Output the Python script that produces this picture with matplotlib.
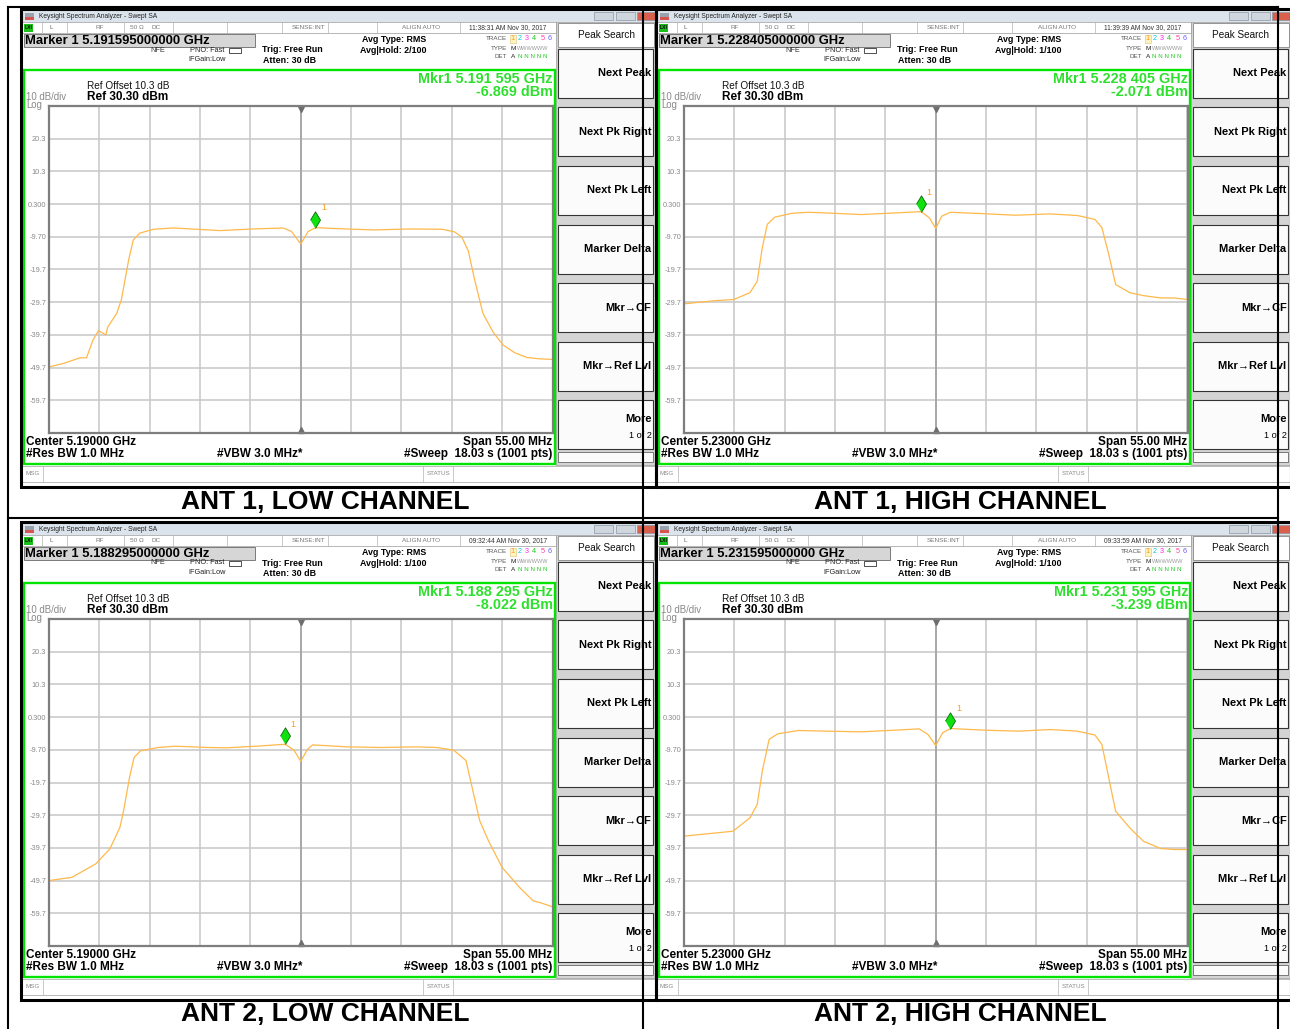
import matplotlib.pyplot as plt
from matplotlib.patches import Rectangle
import numpy as np

plt.rcParams['font.family'] = ['Liberation Sans', 'DejaVu Sans']

span_ghz = 0.055
ref_dbm = 30.3
bottom_dbm = -69.7

captions = ["ANT 1, LOW CHANNEL", "ANT 1, HIGH CHANNEL", "ANT 2, LOW CHANNEL", "ANT 2, HIGH CHANNEL"]
centers_ghz = [5.19, 5.23, 5.19, 5.23]
marker_ghz = [5.191595, 5.228405, 5.188295, 5.231595]
marker_dbm = [-6.869, -2.071, -8.022, -3.239]
timestamps = ["11:38:31 AM Nov 30, 2017", "11:39:39 AM Nov 30, 2017",
              "09:32:44 AM Nov 30, 2017", "09:33:59 AM Nov 30, 2017"]
avg_hold = ["2/100", "1/100", "1/100", "1/100"]

level_ticks = [-69.7, -59.7, -49.7, -39.7, -29.7, -19.7, -9.7, 0.3, 10.3, 20.3, 30.3]
level_labels = ["", "-59.7", "-49.7", "-39.7", "-29.7", "-19.7", "-9.70", "0.300", "10.3", "20.3", ""]

softkeys = ["Next Peak", "Next Pk Right", "Next Pk Left", "Marker Delta",
            "Mkr\u2192CF", "Mkr\u2192Ref Lvl", "More"]

# traces: offset from center frequency (MHz) and level (dBm)
a1_low_mhz = [-27.5, -25.9, -24.1, -23.4, -22.7, -22.1, -21.3, -21.1, -20.1, -19.6, -19.2, -18.8, -18.3,
              -17.6, -16.1, -13.9, -8.8, -5.2, -1.9, -1.0, 0.0, 0.8, 1.6, 4.0, 8.0, 12.0, 15.5, 16.8,
              17.6, 18.3, 19.0, 19.9, 21.0, 22.1, 23.4, 24.7, 26.0, 27.5]
a1_low_dbm = [-49.5, -48.4, -46.7, -46.7, -41.3, -38.4, -39.7, -37.4, -33.1, -29.0, -22.9, -16.8, -10.7,
              -8.6, -7.4, -7.0, -7.8, -7.3, -7.0, -8.1, -11.9, -8.1, -6.9, -7.2, -7.6, -7.3, -7.4, -8.2,
              -9.8, -14.0, -22.9, -33.1, -38.8, -42.8, -45.2, -46.6, -47.0, -47.2]

a1_high_mhz = [-27.5, -24.0, -22.1, -20.3, -19.5, -18.95, -18.4, -17.6, -15.7, -13.9, -11.2, -8.2, -4.4,
               -1.6, -0.7, 0.0, 0.65, 1.6, 5.0, 8.7, 12.5, 15.5, 17.4, 18.15, 18.9, 19.65, 21.2, 22.7,
               24.6, 26.1, 27.5]
a1_high_dbm = [-30.2, -29.2, -28.9, -26.8, -23.3, -13.1, -5.9, -3.7, -2.5, -2.2, -2.5, -2.9, -2.4,
               -2.0, -3.9, -7.1, -3.4, -2.2, -2.6, -3.1, -2.7, -3.2, -4.4, -6.9, -15.1, -24.3, -26.8,
               -27.7, -28.4, -28.4, -28.9]

a2_low_mhz = [-27.5, -25.0, -22.4, -20.85, -19.75, -19.35, -18.7, -18.2, -17.5, -15.6, -13.7, -10.0,
              -8.1, -4.3, -1.7, -0.75, 0.0, 0.75, 1.3, 5.1, 8.8, 12.6, 14.85, 16.7, 18.05, 18.8, 19.55,
              20.5, 22.0, 23.9, 25.4, 26.1, 27.5]
a2_low_dbm = [-49.7, -48.7, -44.6, -40.0, -33.4, -28.3, -18.1, -12.0, -10.0, -9.0, -8.6, -9.0, -9.1,
              -8.5, -8.0, -9.8, -13.2, -9.5, -8.2, -8.8, -9.0, -8.8, -9.0, -9.8, -13.0, -22.2, -31.4,
              -37.5, -45.7, -51.8, -55.9, -56.4, -57.7]

a2_high_mhz = [-27.5, -22.15, -20.3, -19.5, -18.95, -18.2, -17.25, -15.0, -12.0, -8.2, -4.45, -1.8,
               -0.85, 0.0, 0.75, 1.6, 5.35, 9.1, 12.5, 15.5, 17.4, 18.15, 18.9, 19.65, 21.2, 22.7,
               24.6, 26.1, 27.5]
a2_high_dbm = [-36.1, -34.6, -30.5, -26.4, -16.2, -6.5, -4.8, -3.8, -4.0, -4.2, -3.7, -3.3, -5.0,
               -8.4, -4.5, -3.2, -3.7, -4.0, -3.5, -4.0, -5.2, -8.1, -18.3, -28.5, -33.6, -37.7,
               -39.9, -40.2, -40.2]

traces = [(a1_low_mhz, a1_low_dbm), (a1_high_mhz, a1_high_dbm),
          (a2_low_mhz, a2_low_dbm), (a2_high_mhz, a2_high_dbm)]

# top-left corner of each analyzer screen, in pixels
origins = [(22, 10), (657, 10), (22, 523), (657, 523)]
caption_xy = [(325, 502), (960, 502), (325, 1014), (960, 1014)]

W, H = 1290, 1029
fig = plt.figure(figsize=(12.9, 10.29), dpi=100)
bg = fig.add_axes([0, 0, 1, 1])
bg.set_xlim(0, W)
bg.set_ylim(H, 0)
bg.axis('off')

green = '#00e400'
trace_col = '#ffb84a'
diamond = [(0, 0), (0.3, 0.5), (0, 1), (-0.3, 0.5)]


def box(x, y, w, h, fc='white', ec='none', lw=0.8, z=1):
    bg.add_patch(Rectangle((x, y), w, h, facecolor=fc, edgecolor=ec, linewidth=lw, zorder=z))


def draw_screen(i, ox, oy):
    def txt(x, y, s, size=5, color='black', weight='normal', ha='left', z=3):
        bg.text(ox + x, oy + y, s, fontsize=size, color=color, fontweight=weight,
                ha=ha, va='center', zorder=z)

    box(ox, oy, 634, 477)
    # window title bar
    box(ox, oy, 634, 12, fc='#dbe3ec')
    box(ox + 3, oy + 3, 9, 4, fc='#9aa3ad')
    box(ox + 3, oy + 7, 9, 3, fc='#d9534f')
    txt(17, 6.3, 'Keysight Spectrum Analyzer - Swept SA', size=4.8, color='#222')
    for bx, c in [(572, '#cfd6de'), (594, '#cfd6de'), (615, '#d9604c')]:
        box(ox + bx, oy + 2, 19, 8, fc=c, ec='#8a96a3', lw=0.5, z=2)

    # status row
    box(ox, oy + 12, 534, 11, ec='#9a9a9a', lw=0.5)
    for dx in [20, 45, 102, 151, 205, 260, 306, 355, 438]:
        bg.plot([ox + dx, ox + dx], [oy + 12, oy + 23], color='#b4b4b4', lw=0.5, zorder=2)
    box(ox + 2, oy + 13.5, 9, 8, fc='#19c019', z=2)
    txt(2.6, 17.8, 'LXI', size=3.6, weight='bold')
    txt(27, 17.8, 'L', size=4.6, color='#666')
    txt(78, 17.8, 'RF', size=4.6, color='#777', ha='center')
    txt(115, 17.8, '50 \u03a9', size=4.6, color='#777', ha='center')
    txt(134.5, 17.8, 'DC', size=4.6, color='#777', ha='center')
    txt(303, 17.8, 'SENSE:INT', size=4.6, color='#777', ha='right')
    txt(399.5, 17.8, 'ALIGN AUTO', size=4.6, color='#777', ha='center')
    txt(486, 17.8, timestamps[i], size=4.8, color='#333', ha='center')

    # marker readout
    box(ox + 2, oy + 24, 231, 13, fc='#d6d6d6', ec='#7a7a7a', lw=0.7)
    txt(3, 30.8, f'Marker 1 {marker_ghz[i]:.12f} GHz', size=9.4, weight='bold')
    txt(135.5, 40, 'NFE', size=5.3, color='#333', ha='center')
    txt(168, 40, 'PNO: Fast', size=5.3, color='#222')
    box(ox + 207, oy + 37.5, 12, 5, fc='white', ec='#333', lw=0.6)
    txt(166, 49.7, 'IFGain:Low', size=5.3, color='#222')
    txt(240, 40, 'Trig: Free Run', size=6.4, weight='bold')
    txt(241, 50.3, 'Atten: 30 dB', size=6.4, weight='bold')
    txt(372.5, 29.7, 'Avg Type: RMS', size=6.4, weight='bold', ha='center')
    txt(371, 40.7, 'Avg|Hold: ' + avg_hold[i], size=6.4, weight='bold', ha='center')

    txt(485, 28.7, 'TRACE', size=4.5, color='#555', ha='right')
    txt(485, 38.2, 'TYPE', size=4.5, color='#555', ha='right')
    txt(485, 46.7, 'DET', size=4.5, color='#555', ha='right')
    box(ox + 487.5, oy + 24.5, 6.5, 8.5, fc='#fff3c0', ec='#ddc070', lw=0.4, z=2)
    txt(490.7, 28.7, '1', size=5.2, color='#ff9a1a', ha='center')
    for dx, d, c in [(497.3, '2', '#00c8e0'), (504.7, '3', '#ff2af0'), (512, '4', '#20c020'),
                     (520.7, '5', '#ff3fa0'), (528, '6', '#6a5cff')]:
        txt(dx, 28.7, d, size=5.2, color=c, ha='center')
    txt(490.7, 38.2, 'M', size=4.6, color='#222', ha='center')
    txt(494.5, 38.2, 'WWWWWW', size=4.0, color='#999')
    txt(490.7, 46.7, 'A', size=4.6, color='#222', ha='center')
    txt(495.5, 46.7, 'N N N N N', size=4.4, color='#22cc22')

    # green measurement frame
    box(ox + 2, oy + 60, 531, 394, fc='none', ec=green, lw=1.7, z=4)
    txt(531, 69, 'Mkr1 {} {} GHz'.format(f'{marker_ghz[i]:.6f}'[:5], f'{marker_ghz[i]:.6f}'[5:]),
        size=10.4, weight='bold', color='#2ee02e', ha='right')
    txt(531, 82, f'{marker_dbm[i]:.3f} dBm', size=10.4, weight='bold', color='#2ee02e', ha='right')
    txt(64.7, 75.7, 'Ref Offset 10.3 dB', size=7.2, color='#111')
    txt(4, 86.6, '10 dB/div', size=6.9, color='#888')
    txt(64.7, 87.3, f'Ref {ref_dbm:.2f} dBm', size=8.5, weight='bold')
    txt(4, 94.6, 'Log', size=6.9, color='#888')

    cf = centers_ghz[i]
    txt(4, 431.7, f'Center {cf:.5f} GHz', size=8.5, weight='bold')
    txt(530.3, 431.7, f'Span {span_ghz * 1000:.2f} MHz', size=8.5, weight='bold', ha='right')
    txt(4, 444.3, '#Res BW 1.0 MHz', size=8.5, weight='bold')
    txt(238, 444.3, '#VBW 3.0 MHz*', size=8.5, weight='bold', ha='center')
    txt(530.3, 444.3, '#Sweep  18.03 s (1001 pts)', size=8.5, weight='bold', ha='right')

    # message bar
    box(ox, oy + 456, 634, 16, ec='#a0a0a0', lw=0.5)
    for dx in [20.7, 401.3, 431.3]:
        bg.plot([ox + dx, ox + dx], [oy + 456, oy + 472], color='#b4b4b4', lw=0.5, zorder=2)
    txt(3, 463.3, 'MSG', size=4.5, color='#888')
    txt(416.3, 463.3, 'STATUS', size=4.5, color='#888', ha='center')

    # softkey column
    box(ox + 534, oy + 12, 100, 443, fc='#d4d4d4', ec='#9a9a9a', lw=0.5)
    box(ox + 535.5, oy + 13, 96, 23.5, ec='#888', lw=0.6, z=2)
    txt(584, 24.7, 'Peak Search', size=7.2, color='#111', ha='center')
    for k, lab in enumerate(softkeys):
        top = 38.7 + k * 58.6
        box(ox + 536, oy + top, 95, 49, fc='#fbfbfb', ec='#333', lw=0.8, z=2)
        if lab == 'More':
            txt(629.5, top + 18.5, lab, size=8.0, weight='bold', ha='right')
            txt(629.5, top + 35, '1 of 2', size=6.6, ha='right')
        else:
            txt(629.5, top + 24.5, lab, size=8.0, weight='bold', ha='right')
    box(ox + 536, oy + 442, 95, 10, fc='#fbfbfb', ec='#666', lw=0.6, z=2)

    # window border
    box(ox - 1, oy - 1, 635, 478, fc='none', ec='black', lw=2.2, z=8)

    # trace graticule
    ax = fig.add_axes([(ox + 27) / W, 1 - (oy + 96 + 327) / H, 503.5 / W, 327 / H])
    ax.set_xlim(cf - span_ghz / 2, cf + span_ghz / 2)
    ax.set_ylim(bottom_dbm, ref_dbm)
    ax.set_xticks(np.linspace(cf - span_ghz / 2, cf + span_ghz / 2, 11))
    ax.set_xticklabels([])
    ax.set_yticks(level_ticks)
    ax.set_yticklabels(level_labels, fontsize=5.3, color='#8a8a8a')
    ax.tick_params(length=0, pad=2)
    ax.grid(True, color='#c6c6c6', lw=1.1)
    ax.axvline(cf, color='#a8a8a8', lw=1.4)
    for s in ax.spines.values():
        s.set_color('#7e7e7e')
        s.set_linewidth(1.6)
    ax.plot([cf], [ref_dbm - 0.9], marker='v', ms=4.5, color='#6e6e6e', clip_on=False)
    ax.plot([cf], [bottom_dbm + 0.9], marker='^', ms=4.5, color='#6e6e6e', clip_on=False)

    mhz, dbm = traces[i]
    ax.plot(cf + np.array(mhz) / 1000, dbm, color=trace_col, lw=0.9)
    ax.plot([marker_ghz[i]], [marker_dbm[i]], marker=diamond, ms=24, color='#10e010',
            markeredgecolor='#0a6a0a', markeredgewidth=0.6)
    ax.annotate('1', (marker_ghz[i], marker_dbm[i]), xytext=(4, 11), textcoords='offset points',
                fontsize=6.5, color='#ff9a1a', ha='left', va='bottom')

    tx, ty = caption_xy[i]
    bg.text(tx, ty, captions[i], fontsize=19, fontweight='bold', ha='center', va='center', zorder=3)


for i, (ox, oy) in enumerate(origins):
    draw_screen(i, ox, oy)

# table rules
for x in [8, 643, 1278]:
    bg.plot([x, x], [7, H], color='black', lw=1.5, zorder=10)
for y in [7, 518]:
    bg.plot([8, 1278], [y, y], color='black', lw=1.5, zorder=10)

plt.savefig('out.png', dpi=100)
